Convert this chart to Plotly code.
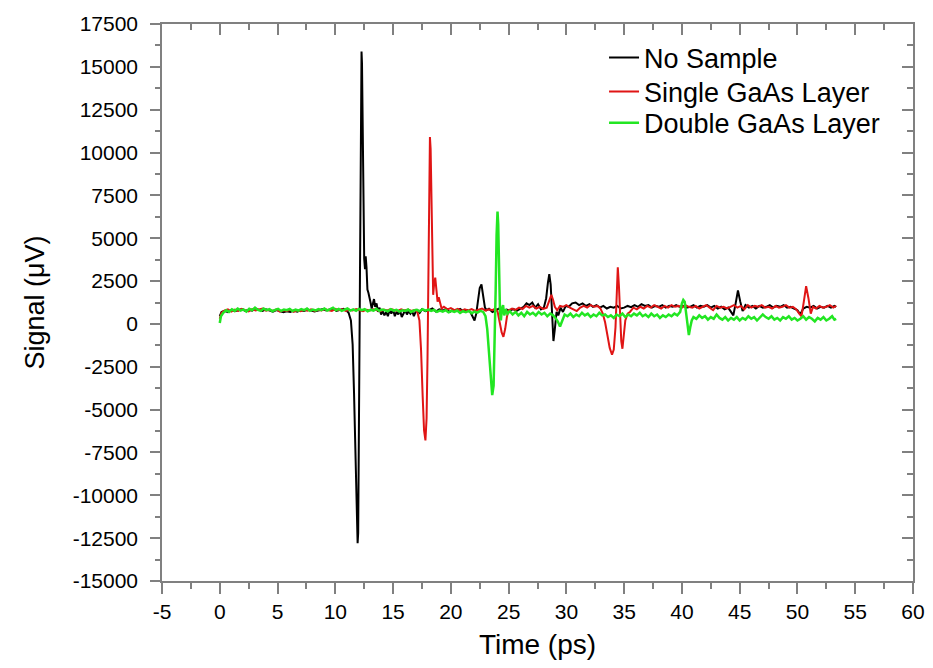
import plotly.graph_objects as go

# ---------------- data ----------------
series_names = ["No Sample", "Single GaAs Layer", "Double GaAs Layer"]

black_pts = [(0.0, 450),(0.15,700),(0.4,760),(0.7,690),(1.0,820),(1.3,740),(1.6,800),(1.9,870),(2.2,760),(2.5,830),(2.8,780),(3.1,900),(3.4,820),(3.7,760),(4.0,850),(4.3,790),(4.6,720),(4.9,810),(5.2,760),(5.5,680),(5.8,740),(6.1,700),(6.4,780),(6.7,720),(7.0,800),(7.3,760),(7.6,840),(7.9,780),(8.2,720),(8.6,800),(8.9,860),(9.2,780),(9.5,820),(9.8,900),(10.1,760),(10.4,840),(10.7,880),(10.95,800),(11.15,650),(11.35,200),(11.5,-1200),(11.62,-4000),(11.72,-7500),(11.8,-10500),(11.87,-12300),(11.93,-12800),(11.98,-12200),(12.04,-7000),(12.1,0),(12.16,7500),(12.22,13500),(12.27,15900),(12.31,15200),(12.36,11000),(12.42,6500),(12.5,3800),(12.57,3200),(12.63,3950),(12.7,3300),(12.78,2000),(12.87,1800),(12.96,1600),(13.05,1250),(13.15,900),(13.25,1150),(13.35,1450),(13.45,1000),(13.57,1200),(13.7,700),(13.83,950),(13.96,550),(14.1,750),(14.25,500),(14.4,700),(14.55,450),(14.7,800),(14.85,600),(15.0,850),(15.15,450),(15.3,700),(15.45,550),(15.6,800),(15.75,400),(15.9,650),(16.05,800),(16.2,550),(16.35,750),(16.5,600),(16.65,750),(16.8,450),(16.95,700),(17.1,800),(17.3,650),(17.5,850),(17.8,750),(18.1,800),(18.4,900),(18.7,720),(19.0,850),(19.3,780),(19.6,880),(19.9,700),(20.2,820),(20.5,760),(20.8,880),(21.1,740),(21.4,810),(21.7,680),(21.9,450),(22.05,200),(22.2,600),(22.35,1400),(22.5,2100),(22.65,2300),(22.8,1700),(22.95,950),(23.1,800),(23.3,880),(23.6,700),(23.9,820),(24.2,900),(24.5,760),(24.8,840),(25.1,780),(25.4,880),(25.7,760),(26.0,900),(26.3,1000),(26.55,1200),(26.8,1100),(27.05,1250),(27.3,950),(27.55,1150),(27.8,850),(28.05,950),(28.25,1500),(28.4,2400),(28.52,2900),(28.64,2300),(28.76,600),(28.88,-1000),(29.0,-300),(29.15,700),(29.3,500),(29.5,950),(29.7,700),(29.95,1050),(30.2,1000),(30.5,1200),(30.8,1250),(31.1,1100),(31.4,1200),(31.7,1050),(32.0,1150),(32.3,1000),(32.6,1100),(32.9,950),(33.2,1050),(33.5,900),(33.8,1000),(34.1,950),(34.4,1050),(34.7,900),(35.0,950),(35.3,1050),(35.6,980),(35.9,1100),(36.2,1000),(36.5,1150),(36.8,1050),(37.1,1100),(37.4,950),(37.7,1050),(38.0,1000),(38.3,1100),(38.6,950),(38.9,1050),(39.2,1000),(39.5,1100),(39.8,1000),(40.1,1050),(40.4,950),(40.7,1000),(41.0,1100),(41.3,950),(41.6,1050),(41.9,1000),(42.2,1100),(42.5,950),(42.8,1050),(43.1,900),(43.4,1000),(43.7,850),(44.0,950),(44.25,700),(44.45,500),(44.65,1200),(44.85,1950),(45.05,1300),(45.25,750),(45.5,1100),(45.8,950),(46.1,1050),(46.4,900),(46.7,1050),(47.0,950),(47.3,1000),(47.6,1100),(47.9,950),(48.2,1050),(48.5,1000),(48.8,1100),(49.1,950),(49.4,1000),(49.7,900),(50.0,800),(50.25,550),(50.5,900),(50.8,1000),(51.1,950),(51.4,1050),(51.7,900),(52.0,1000),(52.3,950),(52.6,1050),(52.9,950),(53.2,1050),(53.35,1000)]

red_pts = [(0.0,300),(0.15,650),(0.4,780),(0.7,850),(1.0,720),(1.3,830),(1.6,760),(1.9,880),(2.2,790),(2.5,730),(2.8,860),(3.1,780),(3.4,840),(3.7,900),(4.0,770),(4.3,820),(4.6,760),(4.9,850),(5.2,720),(5.5,800),(5.8,760),(6.1,830),(6.4,700),(6.7,790),(7.0,740),(7.3,820),(7.6,770),(7.9,850),(8.2,760),(8.5,820),(8.8,780),(9.1,870),(9.4,800),(9.7,760),(10.0,880),(10.3,800),(10.6,850),(10.9,760),(11.2,830),(11.5,780),(11.8,860),(12.1,800),(12.4,740),(12.7,830),(13.0,780),(13.3,860),(13.6,800),(13.9,750),(14.2,840),(14.5,790),(14.8,870),(15.1,800),(15.4,760),(15.7,850),(16.0,780),(16.3,840),(16.6,760),(16.9,820),(17.1,700),(17.28,200),(17.42,-1500),(17.56,-4200),(17.68,-6200),(17.8,-6800),(17.9,-5500),(17.98,-2000),(18.05,3500),(18.12,8500),(18.19,10900),(18.25,10200),(18.32,6500),(18.4,3000),(18.47,1700),(18.55,2300),(18.65,2700),(18.75,2000),(18.85,1300),(18.95,1550),(19.05,1200),(19.2,900),(19.4,1000),(19.7,850),(20.0,920),(20.3,800),(20.6,880),(20.9,760),(21.2,850),(21.5,790),(21.8,870),(22.1,760),(22.4,830),(22.7,900),(23.0,780),(23.3,850),(23.6,800),(23.85,900),(24.05,700),(24.25,100),(24.4,-500),(24.55,-750),(24.7,-300),(24.85,400),(25.0,800),(25.3,900),(25.6,820),(25.9,950),(26.2,870),(26.5,1050),(26.8,950),(27.1,1050),(27.4,900),(27.7,1000),(28.0,880),(28.3,950),(28.5,1300),(28.7,1700),(28.85,1400),(29.0,1000),(29.2,800),(29.45,1050),(29.7,1000),(30.0,1100),(30.3,950),(30.6,850),(30.9,750),(31.2,950),(31.5,1050),(31.8,950),(32.1,1100),(32.4,1000),(32.7,1050),(32.95,900),(33.15,600),(33.35,100),(33.55,-700),(33.75,-1400),(33.95,-1800),(34.1,-1500),(34.25,-200),(34.35,1700),(34.45,3300),(34.55,2200),(34.65,200),(34.75,-1000),(34.85,-1450),(34.95,-800),(35.1,200),(35.3,600),(35.5,700),(35.8,950),(36.1,850),(36.4,1000),(36.7,900),(37.0,1050),(37.3,950),(37.6,1100),(37.9,1000),(38.2,900),(38.5,1050),(38.8,950),(39.1,1100),(39.4,1000),(39.7,1050),(40.0,950),(40.3,1100),(40.6,1000),(40.9,950),(41.2,1050),(41.5,900),(41.8,1000),(42.1,1100),(42.4,950),(42.7,800),(43.0,1050),(43.3,950),(43.6,1000),(43.9,900),(44.2,1000),(44.5,1100),(44.8,950),(45.1,1050),(45.4,850),(45.7,1100),(46.0,950),(46.3,1050),(46.6,1000),(46.9,1100),(47.2,950),(47.5,1000),(47.8,900),(48.1,1050),(48.4,950),(48.7,1000),(49.0,1100),(49.3,950),(49.6,1000),(49.9,850),(50.15,600),(50.35,450),(50.55,1300),(50.75,2200),(50.95,1500),(51.15,600),(51.35,1000),(51.6,900),(51.9,1050),(52.2,950),(52.5,1000),(52.8,1100),(53.1,950),(53.35,1050)]

green_pts = [(0.0,50),(0.1,450),(0.3,650),(0.55,800),(0.8,700),(1.05,850),(1.3,760),(1.55,900),(1.8,780),(2.05,850),(2.3,720),(2.55,880),(2.8,800),(3.05,950),(3.3,820),(3.55,760),(3.8,900),(4.05,800),(4.3,860),(4.55,740),(4.8,820),(5.05,880),(5.3,760),(5.55,840),(5.8,800),(6.05,880),(6.3,750),(6.55,830),(6.8,780),(7.05,860),(7.3,800),(7.55,900),(7.8,760),(8.05,840),(8.3,790),(8.55,870),(8.8,800),(9.05,900),(9.3,780),(9.55,850),(9.8,950),(10.05,800),(10.3,880),(10.55,760),(10.8,840),(11.05,900),(11.3,780),(11.55,850),(11.8,760),(12.05,880),(12.3,800),(12.55,860),(12.8,740),(13.05,820),(13.3,780),(13.55,880),(13.8,760),(14.05,840),(14.3,800),(14.55,740),(14.8,860),(15.05,780),(15.3,820),(15.55,720),(15.8,800),(16.05,760),(16.3,840),(16.55,700),(16.8,780),(17.05,820),(17.3,740),(17.55,860),(17.8,780),(18.05,840),(18.3,760),(18.55,820),(18.8,700),(19.05,780),(19.3,720),(19.55,800),(19.8,680),(20.05,760),(20.3,700),(20.55,780),(20.8,640),(21.05,740),(21.3,680),(21.55,760),(21.8,620),(22.05,720),(22.3,660),(22.55,760),(22.8,700),(23.0,450),(23.15,-300),(23.3,-1800),(23.45,-3300),(23.58,-4150),(23.7,-3600),(23.8,-1200),(23.88,2000),(23.96,5200),(24.04,6550),(24.1,5800),(24.17,3000),(24.25,800),(24.33,200),(24.42,900),(24.52,1100),(24.62,500),(24.75,850),(24.9,600),(25.1,750),(25.35,550),(25.6,700),(25.85,500),(26.1,650),(26.35,450),(26.6,700),(26.85,550),(27.1,650),(27.35,500),(27.6,700),(27.85,550),(28.1,650),(28.35,450),(28.6,600),(28.85,500),(29.05,350),(29.25,150),(29.45,-150),(29.65,250),(29.85,550),(30.1,450),(30.35,600),(30.6,400),(30.85,550),(31.1,450),(31.35,650),(31.6,500),(31.85,600),(32.1,400),(32.35,550),(32.6,450),(32.85,650),(33.1,500),(33.35,550),(33.6,400),(33.85,500),(34.1,350),(34.35,550),(34.6,450),(34.85,600),(35.1,400),(35.35,550),(35.6,450),(35.85,600),(36.1,500),(36.35,650),(36.6,450),(36.85,550),(37.1,400),(37.35,600),(37.6,450),(37.85,550),(38.1,350),(38.35,500),(38.6,400),(38.85,550),(39.1,450),(39.35,600),(39.6,500),(39.85,700),(40.0,1200),(40.12,1400),(40.24,1300),(40.36,600),(40.48,-200),(40.6,-650),(40.72,-200),(40.85,200),(41.0,400),(41.25,300),(41.5,500),(41.75,350),(42.0,450),(42.25,250),(42.5,400),(42.75,300),(43.0,550),(43.25,350),(43.5,250),(43.75,400),(44.0,200),(44.25,350),(44.5,250),(44.75,400),(45.0,200),(45.25,350),(45.5,250),(45.75,450),(46.0,300),(46.25,400),(46.5,200),(46.75,350),(47.0,550),(47.25,400),(47.5,300),(47.75,450),(48.0,250),(48.25,350),(48.5,200),(48.75,400),(49.0,300),(49.25,450),(49.5,250),(49.75,350),(50.0,200),(50.25,300),(50.5,450),(50.75,250),(51.0,400),(51.25,300),(51.5,150),(51.75,350),(52.0,250),(52.25,400),(52.5,200),(52.75,300),(53.0,450),(53.2,250),(53.35,300)]

black_t = [p[0] for p in black_pts]
black_v = [p[1] for p in black_pts]
red_t = [p[0] for p in red_pts]
red_v = [p[1] for p in red_pts]
green_t = [p[0] for p in green_pts]
green_v = [p[1] for p in green_pts]

x_ticks = [-5, 0, 5, 10, 15, 20, 25, 30, 35, 40, 45, 50, 55, 60]
x_minor = [-2.5, 2.5, 7.5, 12.5, 17.5, 22.5, 27.5, 32.5, 37.5, 42.5, 47.5, 52.5, 57.5]
y_ticks = [-15000, -12500, -10000, -7500, -5000, -2500, 0, 2500, 5000, 7500,
           10000, 12500, 15000, 17500]
y_minor = [-13750, -11250, -8750, -6250, -3750, -1250, 1250, 3750, 6250, 8750,
           11250, 13750, 16250]

# ---------------- figure ----------------
AX = "#808080"
FONT = "Liberation Sans, Arial, sans-serif"

fig = go.Figure()
fig.add_trace(go.Scatter(x=black_t, y=black_v, mode="lines", name=series_names[0],
                         line=dict(color="#000000", width=2), legend="legend"))
fig.add_trace(go.Scatter(x=red_t, y=red_v, mode="lines", name=series_names[1],
                         line=dict(color="#e01515", width=2), legend="legend2"))
fig.add_trace(go.Scatter(x=green_t, y=green_v, mode="lines", name=series_names[2],
                         line=dict(color="#22e622", width=2.5), legend="legend3"))
# empty trace to activate the mirrored (top/right) axes
fig.add_trace(go.Scatter(x=[], y=[], xaxis="x2", yaxis="y2", showlegend=False,
                         hoverinfo="skip"))

common = dict(showgrid=False, zeroline=False, showline=True, linecolor=AX,
              linewidth=1.5, tickcolor=AX, tickwidth=1.5, automargin=False)

leg = dict(xanchor="left", yanchor="middle", bgcolor="rgba(0,0,0,0)",
           font=dict(size=27, color="black"), x=0.5886)

fig.update_layout(
    width=925, height=652,
    margin=dict(l=154, r=20, t=16, b=79),
    plot_bgcolor="white", paper_bgcolor="white",
    font=dict(family=FONT, size=21, color="black"),
    xaxis=dict(range=[-5, 60], tickmode="array", tickvals=x_ticks,
               ticktext=[str(v) for v in x_ticks], ticks="outside", ticklen=11,
               ticklabeloverflow="allow",
               minor=dict(tickmode="array", tickvals=x_minor, ticks="outside",
                          ticklen=6, tickcolor=AX, tickwidth=1.5),
               title=dict(text="Time (ps)", font=dict(size=28), standoff=24),
               **common),
    yaxis=dict(range=[-15000, 17500], tickmode="array", tickvals=y_ticks,
               ticktext=[str(v) for v in y_ticks], ticks="outside", ticklen=10,
               ticklabelstandoff=8,
               minor=dict(tickmode="array", tickvals=y_minor, ticks="outside",
                          ticklen=5, tickcolor=AX, tickwidth=1.5),
               title=dict(text="Signal (μV)", font=dict(size=27), standoff=20),
               **common),
    xaxis2=dict(range=[-5, 60], overlaying="x", side="top", anchor="y2",
                tickmode="array", tickvals=x_ticks, ticks="inside", ticklen=11,
                showticklabels=False,
                minor=dict(tickmode="array", tickvals=x_minor, ticks="inside",
                           ticklen=6, tickcolor=AX, tickwidth=1.5),
                **common),
    yaxis2=dict(range=[-15000, 17500], overlaying="y", side="right", anchor="x2",
                tickmode="array", tickvals=y_ticks, ticks="inside", ticklen=11,
                showticklabels=False,
                minor=dict(tickmode="array", tickvals=y_minor, ticks="inside",
                           ticklen=6, tickcolor=AX, tickwidth=1.5),
                **common),
    legend=dict(y=0.939, **leg),
    legend2=dict(y=0.878, **leg),
    legend3=dict(y=0.822, **leg),
    showlegend=True,
)

fig.write_html("out.html")
